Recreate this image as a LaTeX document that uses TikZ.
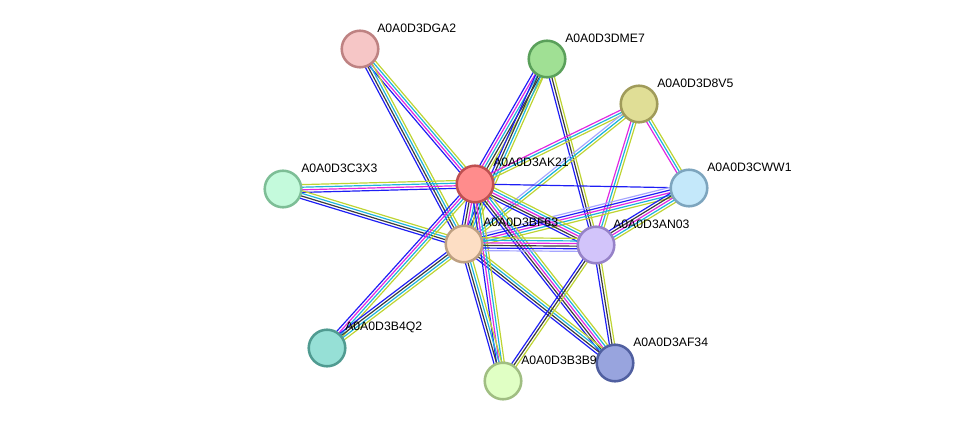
\documentclass[tikz,border=0pt]{standalone}
\usepackage{fontspec}
\setmainfont{Liberation Sans}
\usetikzlibrary{calc,backgrounds}

% evidence colours
\definecolor{eb}{RGB}{30,30,245}
\definecolor{ek}{RGB}{60,60,60}
\definecolor{ec}{RGB}{30,180,220}
\definecolor{em}{RGB}{225,40,225}
\definecolor{ey}{RGB}{190,212,50}
\definecolor{el}{RGB}{165,165,255}

\tikzset{
  prot/.style={circle, draw, line width=1.8pt, minimum size=26pt, inner sep=0pt},
  lbl/.style={anchor=west, inner sep=0pt, font=\fontsize{8.7}{10}\selectfont},
  edge/.style={line width=0.85pt},
}

% #1 from, #2 to, #3 number of lines, #4 colours
\newcommand{\bundle}[4]{%
  \foreach \col [count=\i] in {#4} {
    \pgfmathsetmacro{\off}{(\i-(#3+1)/2)*1.85}
    \draw[edge,\col] ($(#1)!\off pt!90:(#2)$) -- ($(#2)!\off pt!-90:(#1)$);
  }}

\begin{document}
\begin{tikzpicture}[x=0.025cm,y=-0.025cm]
\useasboundingbox (0,0) rectangle (976,427);

\node[prot, fill={rgb,255:red,246;green,198;blue,198}, draw={rgb,255:red,190;green,130;blue,130}] (dga2) at (360,49) {};
\node[prot, fill={rgb,255:red,160;green,224;blue,148}, draw={rgb,255:red,90;green,160;blue,90}] (dme7) at (547,59) {};
\node[prot, fill={rgb,255:red,224;green,222;blue,150}, draw={rgb,255:red,160;green,155;blue,90}] (d8v5) at (639,104) {};
\node[prot, fill={rgb,255:red,196;green,232;blue,250}, draw={rgb,255:red,125;green,165;blue,190}] (cww1) at (689,188) {};
\node[prot, fill={rgb,255:red,255;green,140;blue,140}, draw={rgb,255:red,190;green,80;blue,80}] (ak21) at (475,184) {};
\node[prot, fill={rgb,255:red,196;green,250;blue,220}, draw={rgb,255:red,125;green,190;blue,150}] (c3x3) at (283,189) {};
\node[prot, fill={rgb,255:red,253;green,222;blue,196}, draw={rgb,255:red,190;green,160;blue,130}] (bf63) at (464,244) {};
\node[prot, fill={rgb,255:red,210;green,196;blue,250}, draw={rgb,255:red,150;green,130;blue,200}] (an03) at (596,245) {};
\node[prot, fill={rgb,255:red,150;green,224;blue,214}, draw={rgb,255:red,80;green,155;blue,145}] (b4q2) at (327,348) {};
\node[prot, fill={rgb,255:red,224;green,255;blue,196}, draw={rgb,255:red,160;green,190;blue,130}] (b3b9) at (503,381) {};
\node[prot, fill={rgb,255:red,152;green,164;blue,222}, draw={rgb,255:red,80;green,95;blue,160}] (af34) at (615,363) {};

\node[lbl] (dga2-t) at ($(dga2)+(17,-21)$) {A0A0D3DGA2};
\node[lbl] (dme7-t) at ($(dme7)+(18,-21)$) {A0A0D3DME7};
\node[lbl] (d8v5-t) at ($(d8v5)+(18,-21)$) {A0A0D3D8V5};
\node[lbl] (cww1-t) at ($(cww1)+(18,-21)$) {A0A0D3CWW1};
\node[lbl] (ak21-t) at ($(ak21)+(18,-22)$) {A0A0D3AK21};
\node[lbl] (c3x3-t) at ($(c3x3)+(18,-21)$) {A0A0D3C3X3};
\node[lbl] (bf63-t) at ($(bf63)+(19,-22)$) {A0A0D3BF63};
\node[lbl] (an03-t) at ($(an03)+(17,-21)$) {A0A0D3AN03};
\node[lbl] (b4q2-t) at ($(b4q2)+(18,-21)$) {A0A0D3B4Q2};
\node[lbl] (b3b9-t) at ($(b3b9)+(18,-21)$) {A0A0D3B3B9};
\node[lbl] (af34-t) at ($(af34)+(18,-21)$) {A0A0D3AF34};

\begin{scope}[on background layer]
\bundle{dga2}{ak21}{4}{eb,em,ec,ey}
\bundle{dga2}{bf63}{4}{eb,ek,ec,ey}
\bundle{dme7}{ak21}{5}{eb,em,ec,ek,ey}
\bundle{dme7}{bf63}{4}{eb,ek,ec,ey}
\bundle{dme7}{an03}{3}{eb,ek,ey}
\bundle{d8v5}{ak21}{3}{em,ec,ey}
\bundle{d8v5}{bf63}{3}{el,ec,ey}
\bundle{d8v5}{an03}{3}{em,ec,ey}
\bundle{d8v5}{cww1}{3}{em,ec,ey}
\bundle{cww1}{ak21}{1}{eb}
\bundle{cww1}{bf63}{5}{el,eb,em,ec,ey}
\bundle{cww1}{an03}{5}{eb,ek,em,ec,ey}
\bundle{c3x3}{ak21}{4}{eb,em,ec,ey}
\bundle{c3x3}{bf63}{4}{eb,ek,ec,ey}
\bundle{ak21}{bf63}{5}{eb,ek,em,ec,ey}
\bundle{ak21}{an03}{5}{eb,ek,em,ec,ey}
\bundle{ak21}{af34}{5}{eb,ek,em,ec,ey}
\bundle{bf63}{af34}{4}{eb,ek,ec,ey}
\bundle{ak21}{b4q2}{4}{eb,em,ec,ey}
\bundle{bf63}{b4q2}{4}{eb,ek,ec,ey}
\bundle{ak21}{b3b9}{4}{eb,em,ec,ey}
\bundle{bf63}{b3b9}{4}{eb,ek,ec,ey}
\bundle{bf63}{an03}{6}{el,eb,ek,em,ec,ey}
\bundle{an03}{b3b9}{3}{eb,ek,ey}
\bundle{an03}{af34}{3}{eb,ek,ey}
\end{scope}
\end{tikzpicture}
\end{document}
